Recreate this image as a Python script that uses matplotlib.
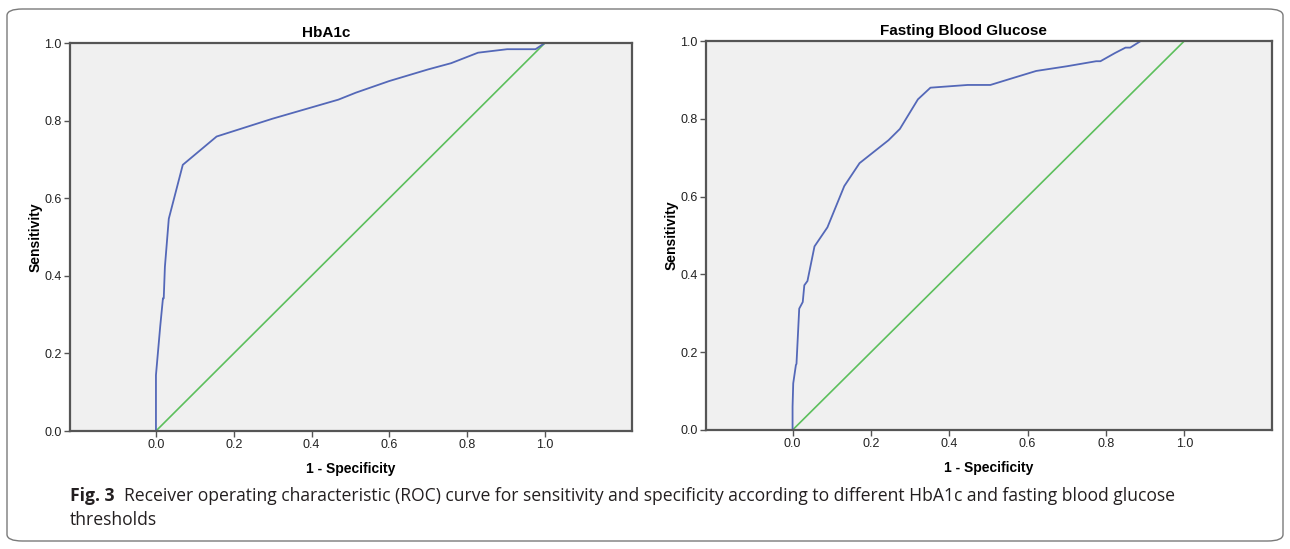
import matplotlib
matplotlib.use('Agg')
from matplotlib import pyplot as plt
from matplotlib.patches import FancyBboxPatch

# HbA1c ROC curve (1 - specificity, sensitivity)
hbFpr = [0.0, 0.0, 0.011, 0.018, 0.020, 0.023, 0.033, 0.069, 0.156, 0.30, 0.40,
         0.469, 0.514, 0.60, 0.70, 0.759, 0.828, 0.903, 0.976, 1.0]
hbTpr = [0.0, 0.144, 0.27, 0.342, 0.342, 0.423, 0.547, 0.686, 0.759, 0.805, 0.834,
         0.854, 0.872, 0.902, 0.932, 0.948, 0.975, 0.984, 0.984, 1.0]

# Fasting blood glucose ROC curve
fbgFpr = [0.0, 0.0, 0.0017, 0.0085, 0.010, 0.017, 0.026, 0.030, 0.038, 0.056, 0.089,
          0.132, 0.171, 0.245, 0.274, 0.320, 0.352, 0.447, 0.505, 0.56, 0.622, 0.70,
          0.775, 0.786, 0.823, 0.85, 0.862, 0.889, 1.0]
fbgTpr = [0.0, 0.06, 0.12, 0.167, 0.17, 0.312, 0.329, 0.372, 0.383, 0.472, 0.521,
          0.627, 0.686, 0.745, 0.774, 0.850, 0.880, 0.887, 0.887, 0.904, 0.923, 0.935,
          0.948, 0.948, 0.969, 0.983, 0.983, 1.0, 1.0]

titles = ['HbA1c', 'Fasting Blood Glucose']
ticks = [0.0, 0.2, 0.4, 0.6, 0.8, 1.0]
tickLabels = ['0.0', '0.2', '0.4', '0.6', '0.8', '1.0']

blue = '#5468b8'
green = '#5cbf5c'
frame = '#555555'

plt.rcParams['font.family'] = ['Liberation Sans', 'DejaVu Sans']

fig = plt.figure(figsize=(12.9, 5.49), dpi=100)

border = FancyBboxPatch((7 / 1290, 8 / 549), 1276 / 1290, 532 / 549,
                        boxstyle='round,pad=0,rounding_size=0.012',
                        transform=fig.transFigure, fill=False,
                        edgecolor='#7a7a7a', linewidth=1.0)
fig.patches.append(border)

positions = [[70 / 1290, 118 / 549, 562 / 1290, 388 / 549],
             [706 / 1290, 119 / 549, 566 / 1290, 389 / 549]]
curves = [(hbFpr, hbTpr), (fbgFpr, fbgTpr)]

for pos, (fpr, tpr), title in zip(positions, curves, titles):
    ax = fig.add_axes(pos)
    ax.set_facecolor('#f0f0f0')
    ax.plot([0, 1], [0, 1], color=green, linewidth=1.2)
    ax.plot(fpr, tpr, color=blue, linewidth=1.3)
    ax.set_xlim(-0.221, 1.224)
    ax.set_ylim(0, 1)
    ax.set_xticks(ticks)
    ax.set_xticklabels(tickLabels)
    ax.set_yticks(ticks)
    ax.set_yticklabels(tickLabels)
    ax.tick_params(direction='out', length=4, width=1.0, color=frame,
                   labelsize=9, labelcolor='#222222', pad=2)
    for s in ax.spines.values():
        s.set_color(frame)
        s.set_linewidth(1.6)
    ax.set_title(title, x=0.455, fontsize=11, fontweight='bold', pad=4)
    ax.set_xlabel('1 - Specificity', fontsize=10, fontweight='bold', labelpad=8)
    ax.set_ylabel('Sensitivity', fontsize=10, fontweight='bold', labelpad=1)

# caption
capFont = ['Open Sans', 'DejaVu Sans']
figLabel = fig.text(70 / 1290, 1 - 496 / 549, 'Fig. 3', fontsize=12.6, fontweight='bold',
                    family=capFont, va='center', color='#231f20')
fig.canvas.draw()
bb = figLabel.get_window_extent()
fig.text((bb.x1 + 10) / 1290, 1 - 496 / 549,
         'Receiver operating characteristic (ROC) curve for sensitivity and specificity '
         'according to different HbA1c and fasting blood glucose',
         fontsize=12.65, family=capFont, va='center', color='#231f20')
fig.text(70 / 1290, 1 - 520 / 549, 'thresholds', fontsize=12.65, family=capFont,
         va='center', color='#231f20')

fig.savefig('out.png', dpi=100)
